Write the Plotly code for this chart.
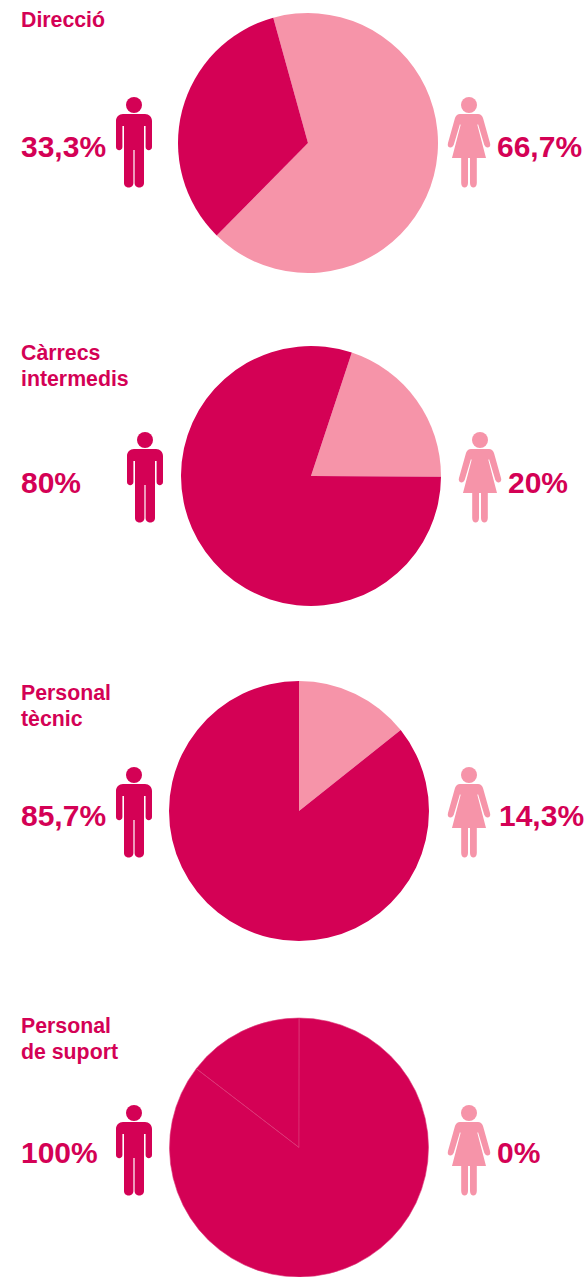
import re
import plotly.graph_objects as go

# ---- data -------------------------------------------------------------
categories = [["Direcció"], ["Càrrecs", "intermedis"], ["Personal", "tècnic"], ["Personal", "de suport"]]
men_labels = ["33,3%", "80%", "85,7%", "100%"]
women_labels = ["66,7%", "20%", "14,3%", "0%"]
first_slice = [66.7, 20.0, 14.3, 14.6]
second_slice = [33.3, 80.0, 85.7, 85.4]
first_slice_is_dark = [False, False, False, True]

# ---- style / layout ----------------------------------------------------
W, H = 585, 1277
DARK = "#D40155"
LIGHT = "#F694A9"
FONT = "Liberation Sans"
rotations = [-15.5, 18.3, 0, -52.5]
pie_boxes = [(178, 438, 13, 273), (181, 441, 346, 606), (169, 429, 681, 941), (169, 429, 1018, 1277)]
man_x = [134, 145, 134, 134]
woman_x = [469, 480, 469, 469]
head_y = [105, 440, 775, 1113]
men_text_y = [147, 483, 815, 1152]
men_text_x = 19
women_text_x = [495, 506, 497, 495]
title_y = [20, 353, 693, 1026]
TITLE_LINE = 26

MAN = ("M -11,9 L 11,9 C 15,9 18,12 18,16 L 18,42 C 18,46.2 11.6,46.2 11.6,42 L 11.6,21 L 10,21 "
       "L 10,78 C 10,84 0.6,84 0.6,78 L 0.6,45 L -0.6,45 L -0.6,78 C -0.6,84 -10,84 -10,78 "
       "L -10,21 L -11.6,21 L -11.6,42 C -11.6,46.2 -18,46.2 -18,42 L -18,16 C -18,12 -15,9 -11,9 Z")
WOMAN = ("M -9,9 L 9,9 Q 12.5,9 14,13 L 21,38 Q 22,42 19,42.5 Q 17,43 15.3,40 L 9,19 L 8.4,20 "
         "L 17,53 L 7.8,53 L 7.8,78 C 7.8,84 1,84 1,78 L 1,53 L -1,53 L -1,78 C -1,84 -7.8,84 -7.8,78 "
         "L -7.8,53 L -17,53 L -8.4,20 L -9,19 L -15.3,40 Q -17,43 -19,42.5 Q -22,42 -21,38 "
         "L -14,13 Q -12.5,9 -9,9 Z")


def px(x):
    return x / W


def py(y):
    return 1 - y / H


def place(path, cx, cy):
    def repl(m):
        return f"{px(cx + float(m.group(1))):.5f},{py(cy + float(m.group(2))):.5f}"
    return re.sub(r"(-?[\d.]+),(-?[\d.]+)", repl, path)


fig = go.Figure()
shapes, annotations = [], []

for i, cat in enumerate(categories):
    x0, x1, y0, y1 = pie_boxes[i]
    col_first = DARK if first_slice_is_dark[i] else LIGHT
    line = dict(color="#DD3A78", width=0.6) if first_slice_is_dark[i] else dict(width=0)
    fig.add_trace(go.Pie(
        values=[first_slice[i], second_slice[i]],
        labels=["A", "B"],
        sort=False,
        direction="clockwise",
        rotation=rotations[i],
        marker=dict(colors=[col_first, DARK], line=line),
        textinfo="none",
        hoverinfo="skip",
        showlegend=False,
        domain=dict(x=[px(x0), px(x1)], y=[py(y1), py(y0)]),
    ))

    for cx, path, col in ((man_x[i], MAN, DARK), (woman_x[i], WOMAN, LIGHT)):
        shapes.append(dict(type="path", xref="paper", yref="paper", path=place(path, cx, head_y[i]),
                           fillcolor=col, line=dict(width=0), layer="above"))
        r = 8
        shapes.append(dict(type="circle", xref="paper", yref="paper",
                           x0=px(cx - r), x1=px(cx + r), y0=py(head_y[i] + r), y1=py(head_y[i] - r),
                           fillcolor=col, line=dict(width=0), layer="above"))

    for j, part in enumerate(cat):
        annotations.append(dict(text=f"<b>{part}</b>", x=px(men_text_x), y=py(title_y[i] + j * TITLE_LINE),
                                xref="paper", yref="paper", xanchor="left", yanchor="middle", align="left",
                                showarrow=False, font=dict(family=FONT, size=21.3, color=DARK)))
    annotations.append(dict(text=f"<b>{men_labels[i]}</b>", x=px(men_text_x), y=py(men_text_y[i]),
                            xref="paper", yref="paper", xanchor="left", yanchor="middle", showarrow=False,
                            font=dict(family=FONT, size=30, color=DARK)))
    annotations.append(dict(text=f"<b>{women_labels[i]}</b>", x=px(women_text_x[i]), y=py(men_text_y[i]),
                            xref="paper", yref="paper", xanchor="left", yanchor="middle", showarrow=False,
                            font=dict(family=FONT, size=30, color=DARK)))

fig.update_layout(width=W, height=H, margin=dict(l=0, r=0, t=0, b=0, pad=0), autosize=False,
                  paper_bgcolor="white", plot_bgcolor="white",
                  shapes=shapes, annotations=annotations)

fig.write_html("out.html", config={"displayModeBar": False},
               post_script="document.body.style.margin='0';document.body.style.overflow='hidden';")
